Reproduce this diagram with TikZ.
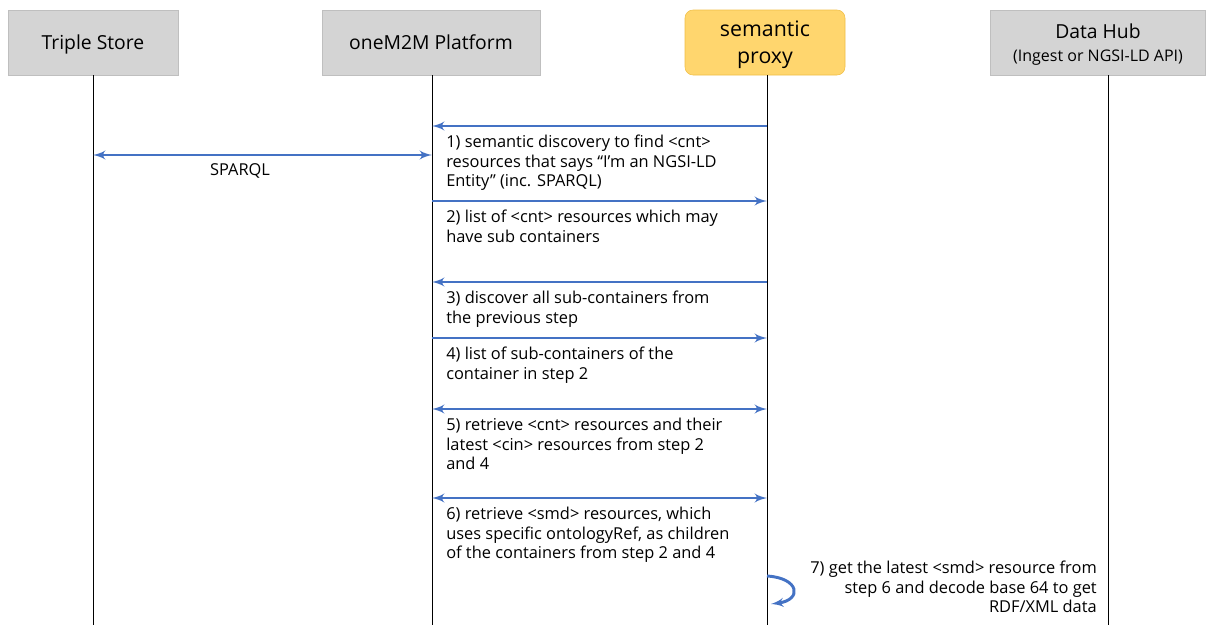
\documentclass[tikz,border=0pt]{standalone}
\usepackage{fontspec}
\setmainfont{Open Sans}
\usetikzlibrary{shapes,arrows}
\definecolor{flowblue}{RGB}{68,114,196}
\definecolor{proxyfill}{RGB}{255,214,110}
\definecolor{proxyline}{RGB}{240,190,70}
\tikzstyle{actor} = [draw=black!25, fill=black!17, rectangle, minimum height=48.75pt, text depth=0pt, align=center, font=\fontsize{14.5}{17}\selectfont]
\tikzstyle{proxy} = [draw=proxyline, fill=proxyfill, rectangle, rounded corners=6pt, minimum height=48.75pt, text depth=0pt, align=center, font=\fontsize{16}{20}\selectfont]
\tikzstyle{lifeline} = [draw=black, line width=0.6pt]
\tikzstyle{msg} = [draw=flowblue, line width=2.2pt]
\tikzstyle{note} = [inner sep=0pt, align=left, font=\fontsize{12.3}{14.6}\selectfont]

\begin{document}
\begin{tikzpicture}[x=0.75pt, y=-0.75pt, >=latex']
 \useasboundingbox (0,0) rectangle (1214,625);
 % nodes
    \node [actor, minimum width=127.5pt, name=store] at (93,42.5) {Triple Store};
    \node [actor, minimum width=163.5pt, name=platform] at (431,42.5) {oneM2M Platform};
    \node [proxy, minimum width=120pt, name=semproxy] at (765,42.5) {semantic\\proxy};
    \node [actor, minimum width=161.25pt, name=datahub] at (1098,42.5) {Data Hub\\[0pt]{\fontsize{12}{13}\selectfont (Ingest or NGSI-LD API)}};
    % lifeline ends
    \coordinate (storeEnd) at (93,625);
    \coordinate (platformEnd) at (432,625);
    \coordinate (proxyEnd) at (767,625);
    \coordinate (hubEnd) at (1108,625);
    % message points
    \coordinate (p1) at (432,126);   \coordinate (s1) at (767,126);
    \coordinate (ts0) at (93,155);   \coordinate (p0) at (432,155);
    \coordinate (p2) at (432,201);   \coordinate (s2) at (767,201);
    \coordinate (p3) at (432,282);   \coordinate (s3) at (767,282);
    \coordinate (p4) at (432,338);   \coordinate (s4) at (767,338);
    \coordinate (p5) at (432,409);   \coordinate (s5) at (767,409);
    \coordinate (p6) at (432,498);   \coordinate (s6) at (767,498);
    \coordinate (s7a) at (767,576);  \coordinate (s7b) at (771,604);
    % labels
    \node [note, name=sparql] at (240,171) {SPARQL};
    \node [note, anchor=north west, name=step1] at (446,135) {1) semantic discovery to find <cnt>\\resources that says “I’m an NGSI-LD\\Entity” (inc. SPARQL)};
    \node [note, anchor=north west, name=step2] at (446,210) {2) list of <cnt> resources which may\\have sub containers};
    \node [note, anchor=north west, name=step3] at (446,291) {3) discover all sub-containers from\\the previous step};
    \node [note, anchor=north west, name=step4] at (446,347) {4) list of sub-containers of the\\container in step 2};
    \node [note, anchor=north west, name=step5] at (446,418) {5) retrieve <cnt> resources and their\\latest <cin>  resources from step 2\\and 4};
    \node [note, anchor=north west, name=step6] at (446,507) {6) retrieve <smd>  resources, which\\uses specific ontologyRef, as children\\of the containers from step 2 and 4};
    \node [note, anchor=north east, align=right, name=step7] at (1097,561) {7) get the latest <smd>  resource from\\step 6 and decode base 64 to get\\RDF/XML data};
    % edges
    \draw [lifeline] (store) -- (storeEnd);
    \draw [lifeline] (platform.south -| platformEnd) -- (platformEnd);
    \draw [lifeline] (semproxy.south -| proxyEnd) -- (proxyEnd);
    \draw [lifeline] (datahub.south -| hubEnd) -- (hubEnd);
    \draw [msg, ->] (s1) -- (p1);
    \draw [msg, <->] (ts0) -- (p0);
    \draw [msg, ->] (p2) -- (s2);
    \draw [msg, ->] (s3) -- (p3);
    \draw [msg, ->] (p4) -- (s4);
    \draw [msg, <->] (p5) -- (s5);
    \draw [msg, <->] (p6) -- (s6);
    \draw [msg, ->] (s7a) .. controls (800,578) and (802,600) .. (s7b);
\end{tikzpicture}
\end{document}
